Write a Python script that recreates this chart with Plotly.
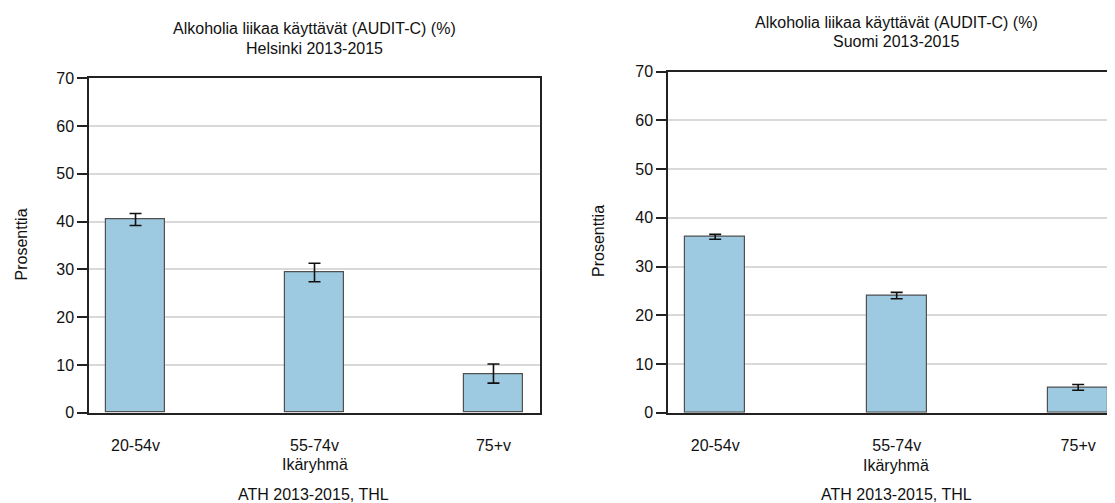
import plotly.graph_objects as go

categories = ["20-54v", "55-74v", "75+v"]
helsinki_values = [40.4, 29.4, 8.1]
helsinki_err_plus = [1.3, 1.9, 2.1]
helsinki_err_minus = [1.2, 2.0, 1.9]
suomi_values = [36.1, 24.1, 5.2]
suomi_err_plus = [0.5, 0.6, 0.6]
suomi_err_minus = [0.5, 0.7, 0.6]
y_ticks = [0, 10, 20, 30, 40, 50, 60, 70]

W, H = 1115, 503
OFF = 8  # page body margin
FONT = "Arial, Liberation Sans, sans-serif"
TXT = "#111111"
BAR = "#9ecae1"
EDGE = "#505050"
GRID = "#d9d9d9"
LINE = "#222222"


def px(x):
    return (x - OFF) / W


def py(y):
    return 1 - (y - OFF) / H


fig = go.Figure()

for vals, ep, em, xa, ya in [
    (helsinki_values, helsinki_err_plus, helsinki_err_minus, "x", "y"),
    (suomi_values, suomi_err_plus, suomi_err_minus, "x2", "y2"),
]:
    fig.add_trace(go.Bar(
        x=categories, y=vals, width=0.33,
        marker=dict(color=BAR, line=dict(color=EDGE, width=1.2)),
        error_y=dict(type="data", symmetric=False, array=ep, arrayminus=em,
                     color="#111111", thickness=1.6, width=6),
        xaxis=xa, yaxis=ya, showlegend=False, hoverinfo="skip",
    ))

common_x = dict(type="category", showline=True, linecolor=LINE, linewidth=1.5,
                ticks="outside", ticklen=17, tickcolor="rgba(0,0,0,0)",
                showgrid=False, zeroline=False, automargin=False,
                tickfont=dict(family=FONT, size=16, color=TXT))
common_y = dict(range=[0, 70], tickvals=y_ticks, showline=True, linecolor=LINE,
                linewidth=1.5, ticks="outside", ticklen=10, tickwidth=1.5,
                tickcolor=LINE, showgrid=True, gridcolor=GRID, gridwidth=1.5,
                zeroline=False, automargin=False,
                tickfont=dict(family=FONT, size=16, color=TXT))

fig.update_layout(
    template="none",
    width=W, height=H, autosize=False,
    margin=dict(l=0, r=0, t=0, b=0, pad=0),
    paper_bgcolor="white", plot_bgcolor="white",
    bargap=0,
    xaxis=dict(domain=[px(89), px(540)], range=[-0.26, 2.26], mirror=True,
               anchor="y", **common_x),
    yaxis=dict(domain=[py(412.7), py(78.3)], mirror=True, anchor="x", **common_y),
    xaxis2=dict(domain=[px(668), 1.0], range=[-0.26, 2.247], mirror=True,
                anchor="y2", **common_x),
    yaxis2=dict(domain=[py(412.7), py(71.7)], mirror=False, anchor="x2", **common_y),
)

ann = [
    ("Alkoholia liikaa käyttävät (AUDIT-C) (%)", 314.5, 29, 0),
    ("Helsinki 2013-2015", 314.5, 48, 0),
    ("Alkoholia liikaa käyttävät (AUDIT-C) (%)", 896.5, 22, 0),
    ("Suomi 2013-2015", 896.5, 41, 0),
    ("Ikäryhmä", 314.5, 464, 0),
    ("Ikäryhmä", 896.5, 465, 0),
    ("ATH 2013-2015, THL", 313, 494, 0),
    ("ATH 2013-2015, THL", 896, 494.5, 0),
    ("Prosenttia", 20.5, 245, -90),
    ("Prosenttia", 598, 241, -90),
]
for text, x, y, ang in ann:
    fig.add_annotation(text=text, x=px(x), y=py(y), xref="paper", yref="paper",
                       xanchor="center", yanchor="middle", showarrow=False,
                       textangle=ang, font=dict(family=FONT, size=16, color=TXT))

fig.write_html("out.html")
